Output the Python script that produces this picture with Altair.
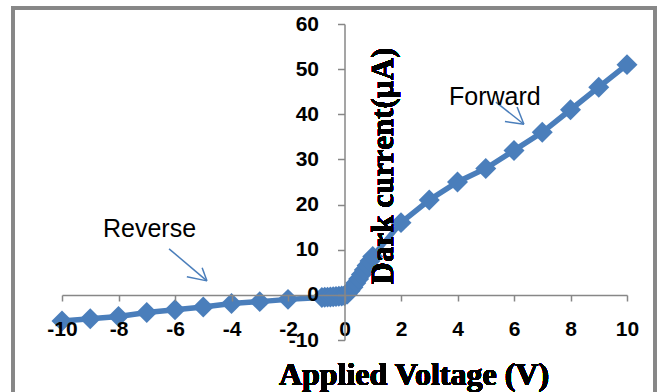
import altair as alt
import pandas as pd

# ---- data ----
volts_rev = [-10, -9, -8, -7, -6, -5, -4, -3, -2]
curr_rev = [-5.8, -5.3, -4.8, -3.9, -3.3, -2.7, -1.9, -1.5, -1.0]
volts_near = [-0.8, -0.7, -0.6, -0.5, -0.4, -0.3, -0.2, -0.1, 0.0,
              0.1, 0.2, 0.3, 0.4, 0.5, 0.6, 0.7, 0.8, 0.9, 1.0]
curr_near = [-0.6, -0.55, -0.5, -0.45, -0.4, -0.35, -0.3, -0.25, -0.2,
             0.2, 0.9, 1.7, 2.6, 3.5, 4.5, 5.5, 6.5, 7.5, 8.5]
volts_fwd = [2, 3, 4, 5, 6, 7, 8, 9, 10]
curr_fwd = [16, 21, 25, 28, 32, 36, 41, 46, 51]

x_ticks = [-10, -8, -6, -4, -2, 0, 2, 4, 6, 8, 10]
y_ticks = [-10, 0, 10, 20, 30, 40, 50, 60]

note_text = ["Reverse", "Forward"]
note_x = [-8.55, 3.70]
note_y = [12.9, 42.1]

# arrow segments (shaft + two head strokes) in data units
arrow_x = [-6.21, -5.58, -5.04, 5.36, 5.68, 6.11]
arrow_y = [10.2, 4.0, 6.0, 42.7, 38.4, 41.6]
arrow_x2 = [-4.87, -4.87, -4.87, 6.35, 6.35, 6.35]
arrow_y2 = [3.1, 3.1, 3.1, 37.8, 37.8, 37.8]

BLUE = "#4a7ebb"
GRAY = "#878787"

df = pd.DataFrame({
    "v": volts_rev + volts_near + volts_fwd,
    "i": curr_rev + curr_near + curr_fwd,
})
notes = pd.DataFrame({"t": note_text, "x": note_x, "y": note_y})
arrows = pd.DataFrame({"x": arrow_x, "y": arrow_y, "x2": arrow_x2, "y2": arrow_y2})

W, H = 565, 316

xscale = alt.Scale(domain=[-10, 10], nice=False, zero=False)
yscale = alt.Scale(domain=[-10, 60], nice=False, zero=False)

xaxis = alt.Axis(values=x_ticks, offset=-45, grid=False, title=None,
                 labelExpr="datum.value + ''",
                 domainColor=GRAY, domainWidth=1.5, tickColor=GRAY, tickWidth=1.5,
                 tickSize=6, labelFont="Liberation Sans", labelFontWeight="bold",
                 labelFontSize=21, labelColor="black", labelPadding=17,
                 labelFlush=False, labelOverlap=False, zindex=1)
yaxis = alt.Axis(values=y_ticks, offset=-282.5, grid=False, title=None,
                 labelExpr="datum.value + ''",
                 domainColor=GRAY, domainWidth=1.5, tickColor=GRAY, tickWidth=1.5,
                 tickSize=7, labelFont="Liberation Sans", labelFontWeight="bold",
                 labelFontSize=21, labelColor="black", labelPadding=19,
                 labelFlush=False, labelOverlap=False, zindex=1)

base = alt.Chart(df)

line = base.mark_line(color=BLUE, strokeWidth=5.5).encode(
    x=alt.X("v:Q", scale=xscale, axis=xaxis),
    y=alt.Y("i:Q", scale=yscale, axis=yaxis),
)
pts = base.mark_point(shape="diamond", filled=True, size=440, color=BLUE, opacity=1).encode(
    x=alt.X("v:Q", scale=xscale),
    y=alt.Y("i:Q", scale=yscale),
)

arrow = alt.Chart(arrows).mark_rule(color=BLUE, strokeWidth=1.5).encode(
    x=alt.X("x:Q", scale=xscale), y=alt.Y("y:Q", scale=yscale),
    x2="x2:Q", y2="y2:Q",
)
note = alt.Chart(notes).mark_text(font="Liberation Sans", fontSize=25, align="left",
                                  baseline="alphabetic", color="black").encode(
    x=alt.X("x:Q", scale=xscale), y=alt.Y("y:Q", scale=yscale), text="t:N",
)

frame = alt.Chart(df).mark_rect(fill=None, stroke=GRAY, strokeWidth=2.5).encode(
    x=alt.value(-49), x2=alt.value(593), y=alt.value(-16), y2=alt.value(380),
)

xtitle = alt.Chart(df).mark_text(text="Applied Voltage (V)", font="Liberation Serif",
                                 fontWeight="bold", fontSize=32, align="center",
                                 baseline="alphabetic", color="black").encode(
    x=alt.value(352), y=alt.value(361),
)
ytitle = alt.Chart(df).mark_text(text="Dark current(µA)", font="Liberation Serif",
                                 fontWeight="bold", fontSize=31, align="center",
                                 baseline="alphabetic", angle=270, color="black").encode(
    x=alt.value(331), y=alt.value(142),
)

chart = alt.layer(frame, line, pts, arrow, note, xtitle, ytitle).properties(
    width=W, height=H,
    autosize=alt.AutoSizeParams(type="none"),
    padding={"left": 62, "top": 24, "right": 35, "bottom": 52},
    background="white",
).configure_view(stroke=None)

chart.save("out.html", embed_options={"renderer": "svg", "actions": False})
